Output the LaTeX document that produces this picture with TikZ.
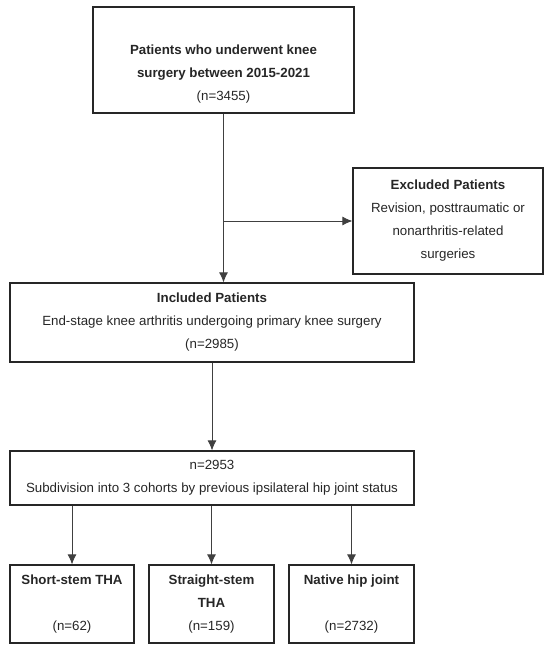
\documentclass[tikz,border=0pt]{standalone}
\usepackage{fontspec}
\setmainfont{Liberation Sans}
\usetikzlibrary{arrows.meta}
\usetikzlibrary{positioning}

\tikzset{
    flowbox/.style={draw=black!85, line width=1.2pt, align=center, inner sep=0pt,
        font=\fontsize{13.3}{23}\selectfont, text=black!85},
    flowarrow/.style={-{Latex[length=10pt, width=9pt]}, line width=0.9pt, draw=black!75}
}

\begin{document}
\begin{tikzpicture}[x=1pt, y=-1pt]
        \useasboundingbox (0, 0) rectangle (550, 655);

        \node[flowbox, minimum width=261, minimum height=106] (total) at (223.5, 60)
            {\mbox{}\\[14pt]\textbf{Patients who underwent knee}\\\textbf{surgery between 2015-2021}\\(n=3455)};
        \node[flowbox, minimum width=190, minimum height=106] (excluded) at (448, 221)
            {\textbf{Excluded Patients}\\Revision, posttraumatic or\\nonarthritis-related\\surgeries};
        \node[flowbox, minimum width=404, minimum height=79] (included) at (212, 322.5)
            {\textbf{Included Patients}\\End-stage knee arthritis undergoing primary knee surgery\\(n=2985)};
        \node[flowbox, minimum width=404, minimum height=54] (subdiv) at (212, 478)
            {n=2953\\Subdivision into 3 cohorts by previous ipsilateral hip joint status};

        \node[flowbox, minimum width=124, minimum height=78] (short) at (72, 604)
            {\textbf{Short-stem THA}\\\mbox{}\\(n=62)};
        \node[flowbox, minimum width=125, minimum height=78] (straight) at (211.5, 604)
            {\textbf{Straight-stem}\\\textbf{THA}\\(n=159)};
        \node[flowbox, minimum width=125, minimum height=78] (native) at (351.5, 604)
            {\textbf{Native hip joint}\\\mbox{}\\(n=2732)};

        \coordinate (split) at (223.5, 221);

        \draw[flowarrow] (total.south) -- (total.south |- included.north);
        \draw[flowarrow] (split) -- (excluded.west);
        \draw[flowarrow] (included.south) -- (subdiv.north);

        \draw[flowarrow] (short.north |- subdiv.south) -- (short.north);
        \draw[flowarrow] (straight.north |- subdiv.south) -- (straight.north);
        \draw[flowarrow] (native.north |- subdiv.south) -- (native.north);
    \end{tikzpicture}
\end{document}
